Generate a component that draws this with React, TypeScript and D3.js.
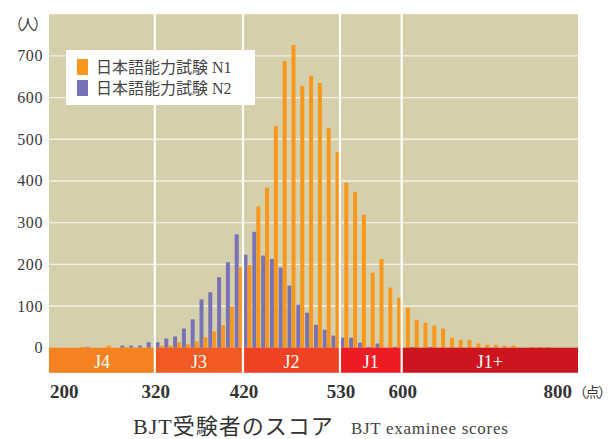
import React from 'react';
import * as d3 from 'd3';

document.body.style.margin = '0';

// score bins of 10 points, 200..790
const bins = d3.range(200, 800, 10).map(String);

// N1 examinees per bin (orange)
const n1Values = [
  0, 0, 0, 2, 0, 0, 5, 0, 2, 0,
  0, 0, 5, 5, 13, 8, 15, 25, 39, 54,
  99, 193, 199, 339, 384, 532, 688, 726, 628, 652,
  635, 527, 470, 396, 374, 319, 180, 213, 144, 120,
  96, 67, 60, 53, 46, 24, 19, 19, 10, 7,
  7, 5, 5, 0, 2, 2, 2, 0, 0, 0,
];

// N2 examinees per bin (purple)
const n2Values = [
  0, 0, 0, 0, 2, 0, 0, 0, 5, 5,
  5, 13, 13, 22, 27, 46, 68, 116, 133, 169,
  205, 272, 223, 278, 221, 213, 192, 149, 103, 84,
  55, 43, 29, 24, 24, 12, 2, 10, 0, 2,
  0, 2, 0, 2, 0, 0, 0, 0, 0, 0,
  0, 0, 0, 0, 0, 0, 0, 0, 0, 0,
];

const seriesNames = ['日本語能力試験 N1', '日本語能力試験 N2'];
const yTicks = [0, 100, 200, 300, 400, 500, 600, 700];
const xTicks = [200, 320, 420, 530, 600, 800];
const levelNames = ['J4', 'J3', 'J2', 'J1', 'J1+'];
const levelBounds = [200, 320, 420, 530, 600, 800];

const W = 610;
const H = 439;
const left = 49;
const right = 578;
const serif = "'Liberation Serif', 'DejaVu Serif', 'Noto Sans CJK JP', serif";
const cjk = "'Liberation Serif', 'Noto Sans CJK JP', sans-serif";

const orange = '#f7981d';
const purple = '#7771b5';
const levelColors = ['#f58220', '#f15a22', '#ef4123', '#ed1c24', '#cc151e'];

export default function App() {
  const y = d3.scaleLinear().domain([0, 800]).range([347.7, 14.2]);
  const xs = d3.scaleLinear().domain([200, 800]).range([left, right]);
  const xb = d3.scaleBand().domain(bins).range([left, right]).paddingInner(0.1).paddingOuter(0.1);
  const sub = d3.scaleBand().domain(['n2', 'n1']).range([0, xb.bandwidth()]);
  const bandTop = y(0);
  const bandBottom = bandTop + 25;

  return (
    <svg width={W} height={H} style={{ display: 'block', background: '#fff' }}>
      <rect x={left} y={y(800)} width={right - left} height={bandBottom - y(800)} fill="#d5d0ab" />
      {yTicks.filter((t) => t > 0).map((t) => (
        <line key={t} x1={left} x2={right} y1={y(t)} y2={y(t)} stroke="#f3f0e1" strokeWidth={1.4} />
      ))}
      {bins.map((b, i) => (
        <g key={b}>
          {n2Values[i] > 0 && (
            <rect x={xb(b)! + sub('n2')!} y={y(n2Values[i])} width={sub.bandwidth()} height={y(0) - y(n2Values[i])} fill={purple} />
          )}
          {n1Values[i] > 0 && (
            <rect x={xb(b)! + sub('n1')!} y={y(n1Values[i])} width={sub.bandwidth()} height={y(0) - y(n1Values[i])} fill={orange} />
          )}
        </g>
      ))}
      {levelNames.map((name, i) => {
        const x0 = xs(levelBounds[i]);
        const x1 = xs(levelBounds[i + 1]);
        return (
          <g key={name}>
            <rect x={x0} y={bandTop} width={x1 - x0} height={bandBottom - bandTop} fill={levelColors[i]} />
            <text x={(x0 + x1) / 2} y={bandTop + 20} textAnchor="middle" fill="#fff" fontSize={18} fontFamily={serif}>
              {name}
            </text>
          </g>
        );
      })}
      {levelBounds.slice(1, -1).map((v) => (
        <line key={v} x1={xs(v)} x2={xs(v)} y1={y(800)} y2={bandBottom} stroke="#fff" strokeWidth={2.2} />
      ))}
      {yTicks.map((t) => (
        <text key={t} x={43} y={y(t) + 5.5} textAnchor="end" fontSize={16} letterSpacing={0.6} fill="#3a3a3a" fontFamily={serif}>
          {t}
        </text>
      ))}
      <text x={8} y={30} fontSize={15} letterSpacing={-2.5} fill="#3a3a3a" fontFamily={cjk}>（人）</text>
      {xTicks.map((t, i) => {
        const anchor = i === 0 ? 'start' : i === xTicks.length - 1 ? 'end' : 'middle';
        const x = i === 0 ? xs(t) + 1 : i === xTicks.length - 1 ? xs(t) - 6 : xs(t) + 1;
        return (
          <text key={t} x={x} y={398} textAnchor={anchor} fontSize={19} fontWeight="bold" fill="#333" fontFamily={serif}>
            {t}
          </text>
        );
      })}
      <text x={573} y={397} fontSize={14} letterSpacing={-1.5} fill="#3a3a3a" fontFamily={cjk}>（点）</text>
      <g>
        <rect x={66} y={50} width={189} height={55} fill="#fff" />
        {seriesNames.map((s, i) => (
          <g key={s}>
            <rect x={77} y={59 + i * 21} width={11} height={16} fill={i === 0 ? orange : purple} />
            <text x={96} y={73 + i * 21} fontSize={16} fill="#444" fontFamily={cjk}>{s}</text>
          </g>
        ))}
      </g>
      <text x={133} y={434} fontSize={22} letterSpacing={1} fill="#333" fontFamily={cjk}>BJT受験者のスコア</text>
      <text x={351} y={434} fontSize={17} letterSpacing={0.7} fill="#444" fontFamily={serif}>BJT examinee scores</text>
    </svg>
  );
}
